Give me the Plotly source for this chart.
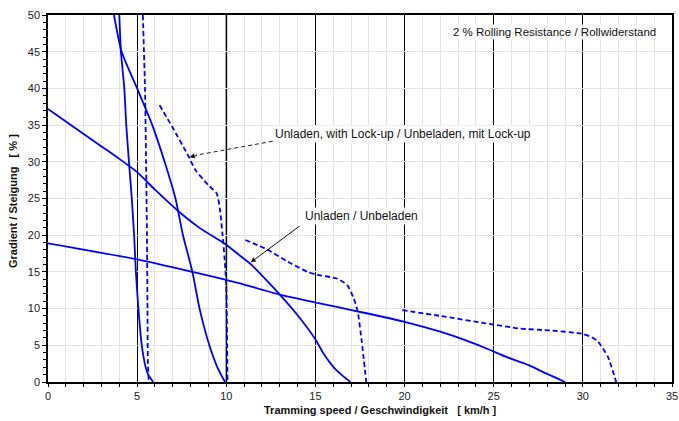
import plotly.graph_objects as go

# Curves (speed km/h, gradient %)
s1_x = [4.0, 4.09, 4.28, 4.39, 4.54, 4.7, 4.83, 4.93, 5.07, 5.26, 5.48, 5.62, 5.9]
s1_y = [50, 45, 40, 35, 30, 25, 20, 15, 10, 5, 2, 1, 0]

s2_x = [3.7, 4.13, 5.0, 5.85, 6.54, 7.15, 7.57, 8.1, 8.5, 9.05, 9.5, 9.93]
s2_y = [50, 45, 40, 35, 30, 25, 20, 15, 10, 5, 2, 0]

d1_x = [5.32, 5.44, 5.5, 5.55, 5.58, 5.6, 5.65]
d1_y = [50, 40, 30, 20, 10, 3, 0]

d2_x = [6.26, 6.96, 7.89, 8.26, 9.0, 9.46, 9.65, 9.78, 9.9, 10.0, 10.05, 10.07]
d2_y = [37.7, 34.8, 30.7, 28.9, 26.8, 25.7, 23.4, 20.3, 17.0, 13.0, 5.0, 0]

s3_x = [0, 1, 2, 3, 4, 5, 6, 7.3, 8.5, 10, 10.67, 11.4, 12.33, 13, 14, 14.96, 15.5, 16.04, 16.5, 16.96]
s3_y = [37.2, 35.5, 33.8, 32.1, 30.4, 28.6, 26.2, 23.3, 21.0, 18.7, 17.4, 16.0, 13.66, 11.9, 9.1, 5.95, 3.7, 1.95, 0.9, 0]

d3_x = [11.07, 12.33, 13.44, 14.56, 15.1, 16.2, 16.78, 17.15, 17.37, 17.6, 17.85]
d3_y = [19.35, 18.0, 16.4, 15.0, 14.6, 14.1, 13.2, 11.4, 9.6, 5.5, 0]

s4_x = [0, 5, 8.1, 10, 10.67, 13, 14.96, 17.4, 20, 22, 23.4, 24.56, 25.67, 26.96, 27.9, 29.0]
s4_y = [18.9, 16.7, 15.0, 13.9, 13.5, 11.9, 10.85, 9.6, 8.2, 6.85, 5.7, 4.6, 3.45, 2.3, 1.2, 0]

d4_x = [19.87, 22, 24.56, 26.4, 28.26, 29.93, 30.5, 30.85, 31.4, 31.87]
d4_y = [9.8, 9.0, 8.0, 7.3, 7.0, 6.6, 6.1, 5.5, 3.45, 0]

x_ticks = [0, 5, 10, 15, 20, 25, 30, 35]
y_ticks = [0, 5, 10, 15, 20, 25, 30, 35, 40, 45, 50]

BLUE = "#0000ff"
FONT = "Liberation Sans, Arial, sans-serif"

W, H = 679, 421
L, R, T, B = 48, 7, 15, 39
pw = W - L - R
ph = H - T - B


def px_to_paper(sx, sy):
    """figure pixel -> paper coords"""
    return (sx - L) / pw, (H - B - sy) / ph


fig = go.Figure()

solid = [(s1_x, s1_y), (s2_x, s2_y), (s3_x, s3_y), (s4_x, s4_y)]
dashed = [(d1_x, d1_y), (d2_x, d2_y), (d3_x, d3_y), (d4_x, d4_y)]

for xs, ys in solid:
    fig.add_trace(go.Scatter(x=xs, y=ys, mode="lines",
                             line=dict(color=BLUE, width=1.8, shape="spline", smoothing=0.6),
                             showlegend=False, hoverinfo="skip"))
for xs, ys in dashed:
    fig.add_trace(go.Scatter(x=xs, y=ys, mode="lines",
                             line=dict(color=BLUE, width=1.8, dash="5px,3px", shape="spline", smoothing=0.6),
                             showlegend=False, hoverinfo="skip"))

# grey line at 10
fig.add_shape(type="line", x0=10, x1=10, y0=0, y1=50, xref="x", yref="y",
              line=dict(color="#7a7a7a", width=2), layer="below")

# dashed arrow for lock-up label
fig.add_shape(type="line", x0=12.6, y0=32.8, x1=8.3, y1=30.9, xref="x", yref="y",
              line=dict(color="#222222", width=1, dash="4px,3px"))
fig.add_annotation(x=7.94, y=30.65, xref="x", yref="y", ax=9, ay=-1.8, axref="pixel", ayref="pixel",
                   text="", showarrow=True, arrowhead=2, arrowsize=1, arrowwidth=1, arrowcolor="#111111")

fig.add_annotation(x=19.9, y=33.8, xref="x", yref="y", text="Unladen, with Lock-up / Unbeladen, mit Lock-up",
                   showarrow=False, font=dict(family=FONT, size=12, color="#111111"), bgcolor="white",
                   xanchor="center", yanchor="middle")

# solid arrow for unladen label
fig.add_annotation(x=11.37, y=16.3, xref="x", yref="y", ax=14.2, ay=21.4, axref="x", ayref="y",
                   text="", showarrow=True, arrowhead=2, arrowsize=1, arrowwidth=1, arrowcolor="#111111")
fig.add_annotation(x=17.6, y=22.6, xref="x", yref="y", text="Unladen / Unbeladen",
                   showarrow=False, font=dict(family=FONT, size=12, color="#111111"), bgcolor="white",
                   xanchor="center", yanchor="middle")

rx, ry = px_to_paper(554, 32)
fig.add_annotation(x=rx, y=ry, xref="paper", yref="paper", text="2 % Rolling Resistance / Rollwiderstand",
                   showarrow=False, font=dict(family=FONT, size=11.5, color="#111111"), bgcolor="white",
                   xanchor="center", yanchor="middle")

# axis titles as annotations
tx, ty = px_to_paper(380, 410)
fig.add_annotation(x=tx, y=ty, xref="paper", yref="paper",
                   text="<b>Tramming speed / Geschwindigkeit   [ km/h ]</b>", showarrow=False,
                   font=dict(family=FONT, size=11, color="#111111"), xanchor="center", yanchor="middle")
vx, vy = px_to_paper(13, 201)
fig.add_annotation(x=vx, y=vy, xref="paper", yref="paper",
                   text="<b>Gradient / Steigung   [ % ]</b>", showarrow=False, textangle=-90,
                   font=dict(family=FONT, size=11, color="#111111"), xanchor="center", yanchor="middle")

fig.update_layout(
    width=W, height=H,
    margin=dict(l=L, r=R, t=T, b=B, autoexpand=False),
    paper_bgcolor="white", plot_bgcolor="white",
    font=dict(family=FONT, size=11, color="#222222"),
)

fig.update_xaxes(range=[0, 35], tickvals=x_ticks, showgrid=True, gridcolor="#000000", gridwidth=1,
                 ticks="outside", ticklen=3, tickcolor="#000000", zeroline=False,
                 showline=True, linecolor="#000000", linewidth=1.5, mirror=True,
                 tickfont=dict(family=FONT, size=11, color="#222222"),
                 minor=dict(dtick=1, tick0=0, showgrid=True, gridcolor="#e3e3e3", gridwidth=1,
                            ticks="outside", ticklen=3, tickcolor="#000000"))
fig.update_yaxes(range=[0, 50], tickvals=y_ticks, showgrid=True, gridcolor="#e3e3e3", gridwidth=1,
                 ticks="outside", ticklen=4, tickcolor="#000000", zeroline=False,
                 showline=True, linecolor="#000000", linewidth=1.5, mirror=True,
                 tickfont=dict(family=FONT, size=11, color="#222222"),
                 minor=dict(dtick=1, tick0=0, showgrid=False, ticks="outside", ticklen=3, tickcolor="#000000"))

fig.write_html("out.html", config={"displayModeBar": False},
               post_script="document.body.style.margin='0';document.body.style.overflow='hidden';")
